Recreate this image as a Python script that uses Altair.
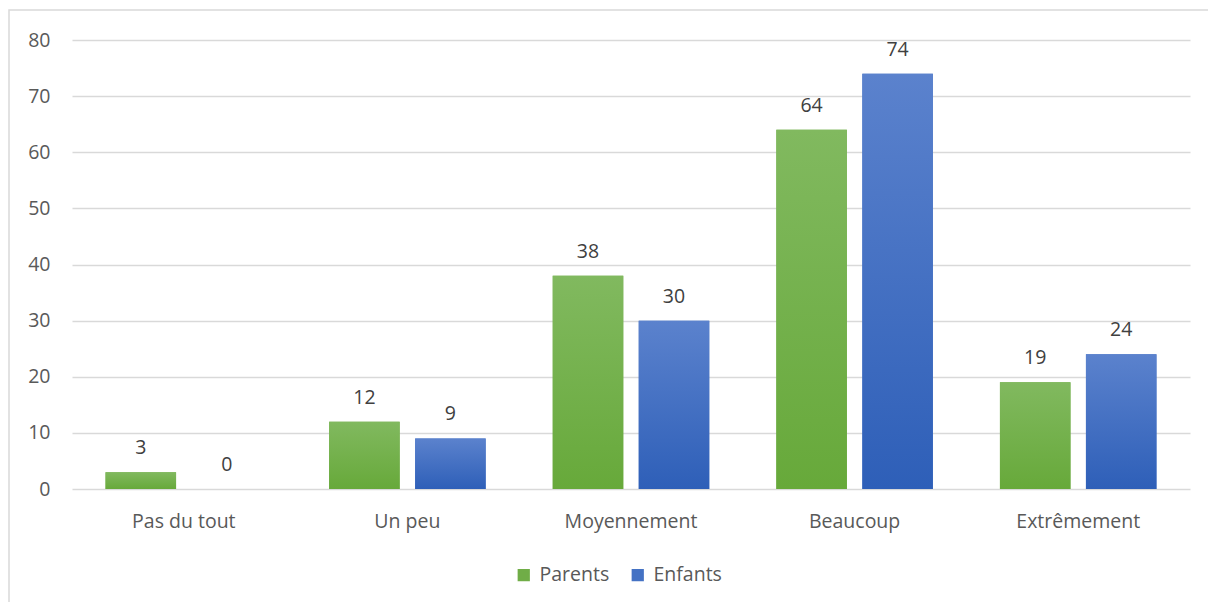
import altair as alt
import pandas as pd

categories = ["Pas du tout", "Un peu", "Moyennement", "Beaucoup", "Extrêmement"]
series = ["Parents", "Enfants"]
parents = [3, 12, 38, 64, 19]
enfants = [0, 9, 30, 74, 24]
y_ticks = [0, 10, 20, 30, 40, 50, 60, 70, 80]

rows = []
for c, p, e in zip(categories, parents, enfants):
    rows.append({"categorie": c, "groupe": "Parents", "valeur": p})
    rows.append({"categorie": c, "groupe": "Enfants", "valeur": e})
df = pd.DataFrame(rows)

FONT = "Open Sans"
TEXT = "#595959"
GREEN = "#70ad47"
BLUE = "#4472c4"
FS = 19.5

x_enc = alt.X(
    "categorie:N",
    sort=categories,
    scale=alt.Scale(paddingInner=0.3, paddingOuter=0.15),
    axis=alt.Axis(
        title=None, labelAngle=0, domain=False, ticks=False,
        labelPadding=23, labelFontSize=FS, labelColor=TEXT, labelFont=FONT,
    ),
)
y_enc = alt.Y(
    "valeur:Q",
    scale=alt.Scale(domain=[0, 80], nice=False),
    axis=alt.Axis(
        title=None, values=y_ticks, domain=False, ticks=False,
        labelPadding=22, labelFontSize=FS, labelColor=TEXT, labelFont=FONT,
        gridColor="#d9d9d9", gridWidth=1.3,
    ),
)
xoff = alt.XOffset("groupe:N", sort=series, scale=alt.Scale(paddingInner=0.18))

base = alt.Chart(df).encode(x=x_enc, y=y_enc, xOffset=xoff)

# solid bars carry the legend; gradient bars are drawn over them
legend_bars = base.mark_bar().encode(
    color=alt.Color(
        "groupe:N",
        sort=series,
        scale=alt.Scale(domain=series, range=[GREEN, BLUE]),
        legend=alt.Legend(
            title=None, orient="none", direction="horizontal",
            legendX=442, legendY=525, symbolType="square", symbolSize=150,
            symbolStrokeWidth=0, labelFontSize=FS, labelColor=TEXT,
            labelFont=FONT, columnPadding=18, labelOffset=6,
        ),
    )
)

def grad(top, bottom):
    return alt.Gradient(
        gradient="linear", x1=0, y1=0, x2=0, y2=1,
        stops=[alt.GradientStop(color=top, offset=0),
               alt.GradientStop(color=bottom, offset=1)],
    )

green_bars = base.transform_filter(alt.datum.groupe == "Parents").mark_bar(
    color=grad("#81b95f", "#67a93a")
)
blue_bars = base.transform_filter(alt.datum.groupe == "Enfants").mark_bar(
    color=grad("#5b82cd", "#2e5fb8")
)

labels = base.mark_text(
    dy=-14, fontSize=FS, color="#404040", font=FONT, baseline="bottom"
).encode(text="valeur:Q")

frame = alt.Chart(pd.DataFrame({"k": [0]})).mark_rect(
    fill=None, stroke="#d9d9d9", strokeWidth=1.5
).encode(
    x=alt.value(-63), x2=alt.value(1180), y=alt.value(-30), y2=alt.value(600)
)

chart = (
    alt.layer(frame, legend_bars, green_bars, blue_bars, labels)
    .properties(
        width=1118, height=449,
        autosize=alt.AutoSizeParams(type="none"),
        padding={"left": 72, "top": 40, "right": 18, "bottom": 113},
        background="white",
    )
    .configure_view(stroke=None)
)

chart.save("out.html", embed_options={"renderer": "svg", "actions": False})
